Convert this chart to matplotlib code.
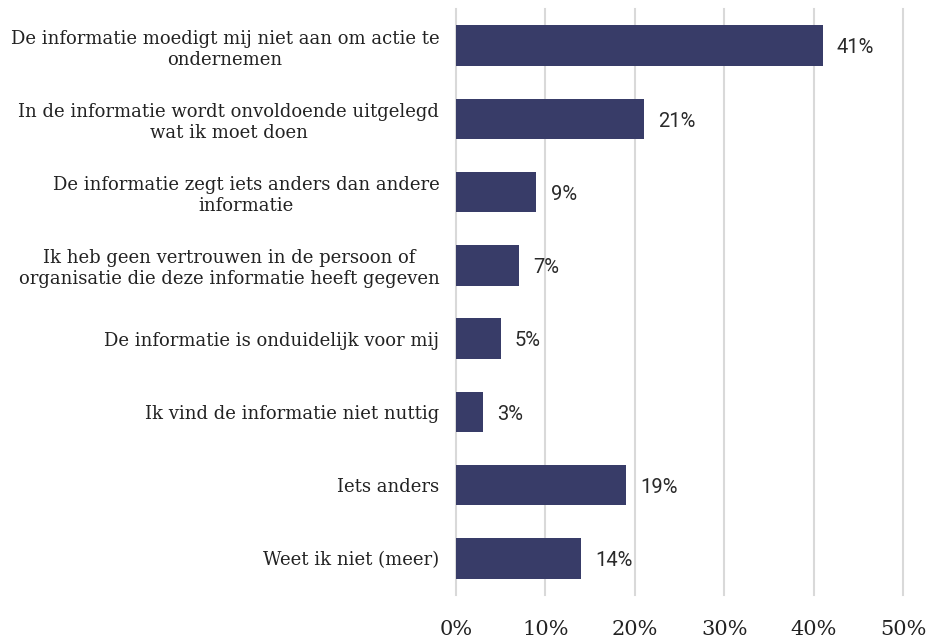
import matplotlib
matplotlib.use("Agg")
import matplotlib.pyplot as plt

categories = [
    "De informatie moedigt mij niet aan om actie te\nondernemen",
    "In de informatie wordt onvoldoende uitgelegd\nwat ik moet doen",
    "De informatie zegt iets anders dan andere\ninformatie",
    "Ik heb geen vertrouwen in de persoon of\norganisatie die deze informatie heeft gegeven",
    "De informatie is onduidelijk voor mij",
    "Ik vind de informatie niet nuttig",
    "Iets anders",
    "Weet ik niet (meer)",
]
values = [41, 21, 9, 7, 5, 3, 19, 14]
xticks = [0, 10, 20, 30, 40, 50]
xtick_labels = ["0%", "10%", "20%", "30%", "40%", "50%"]

fig = plt.figure(figsize=(9.33, 6.42), dpi=100)
ax = fig.add_axes([456/933, 1-595/642, (903-456)/933, (595-9)/642])

ypos = list(range(len(categories)))
ax.barh(ypos, values, height=0.55, color="#383c68", zorder=3)
ax.set_ylim(len(categories)-0.5, -0.5)
ax.set_xlim(0, 50)
ax.set_xticks(xticks)
ax.set_xticklabels(xtick_labels, fontfamily="DejaVu Serif", fontsize=15, color="#222222")
ax.set_yticks(ypos)
ax.set_yticklabels(categories, fontfamily="DejaVu Serif", fontsize=13.0, color="#222222",
                   multialignment="center", linespacing=1.22)
ax.tick_params(axis="y", length=0, pad=12)
ax.tick_params(axis="x", length=0, pad=18)
ax.grid(axis="x", color="#d9d9d9", linewidth=1.5, zorder=0)
for gl in ax.get_xgridlines():
    gl.set_clip_on(False)
for s in ax.spines.values():
    s.set_visible(False)

for y, v in zip(ypos, values):
    ax.text(v + 1.6, y + 0.03, f"{v}%", va="center", ha="left",
            fontfamily="Roboto", fontsize=14.5, color="#2a2a2a")

fig.savefig("out.png", dpi=100)
